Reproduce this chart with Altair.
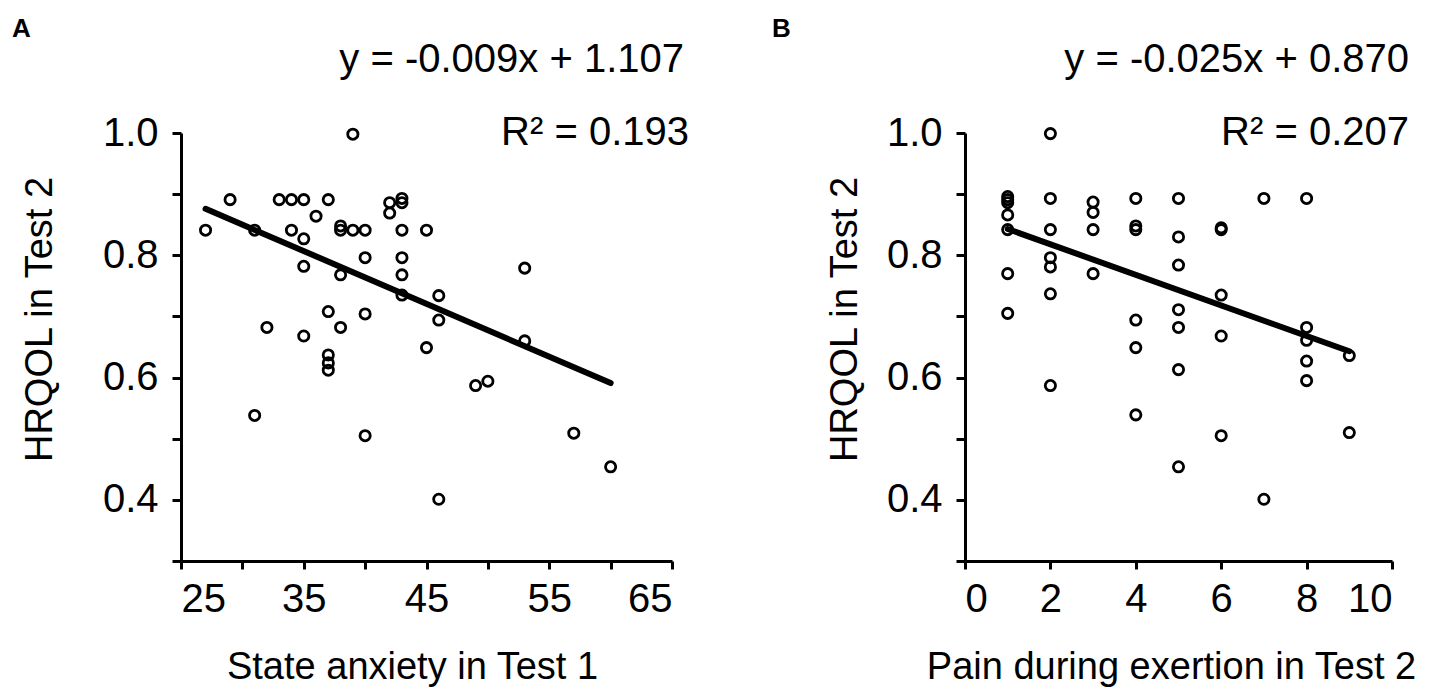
import altair as alt
import pandas as pd

FONT = "Liberation Sans"

# Panel A: state anxiety in Test 1 vs HRQOL in Test 2
anx_x = [27, 29, 33, 34, 35, 37, 36, 31, 34, 35, 38, 38, 39, 40, 39, 42, 42, 43, 43, 43,
         45, 40, 43, 43, 35, 38, 43, 46, 46, 37, 40, 32, 35, 38, 45, 53, 37, 37, 37, 49,
         50, 31, 40, 57, 60, 46, 53]
anx_y = [0.841, 0.891, 0.891, 0.891, 0.891, 0.891, 0.864, 0.841, 0.841, 0.827, 0.848, 0.841,
         0.841, 0.841, 0.998, 0.886, 0.869, 0.893, 0.886, 0.841, 0.841, 0.796, 0.796, 0.768,
         0.782, 0.768, 0.735, 0.734, 0.694, 0.708, 0.704, 0.682, 0.668, 0.682, 0.649, 0.660,
         0.637, 0.624, 0.612, 0.587, 0.594, 0.538, 0.505, 0.509, 0.454, 0.401, 0.779]
anx_fit_x = [27, 60]
anx_fit_y = [0.876, 0.591]

# Panel B: pain during exertion in Test 2 vs HRQOL in Test 2
pain_x = [1, 1, 1, 1, 1, 1, 1,
          2, 2, 2, 2, 2, 2, 2,
          3, 3, 3, 3,
          4, 4, 4, 4, 4, 4,
          5, 5, 5, 5, 5, 5, 5,
          6, 6, 6, 6, 6,
          7, 7,
          8, 8, 8, 8, 8,
          9, 9]
pain_y = [0.896, 0.891, 0.886, 0.866, 0.842, 0.770, 0.705,
          0.999, 0.893, 0.842, 0.796, 0.781, 0.737, 0.587,
          0.887, 0.870, 0.842, 0.770,
          0.893, 0.848, 0.842, 0.694, 0.649, 0.539,
          0.893, 0.830, 0.784, 0.711, 0.682, 0.613, 0.454,
          0.845, 0.842, 0.735, 0.668, 0.505,
          0.893, 0.401,
          0.893, 0.682, 0.661, 0.627, 0.595,
          0.636, 0.510]
pain_fit_x = [1, 9]
pain_fit_y = [0.843, 0.643]

# ticks and labels
y_ticks = [0.3, 0.4, 0.5, 0.6, 0.7, 0.8, 0.9, 1.0]
y_labels = ["0.4", "0.6", "0.8", "1.0"]
anx_ticks = [25, 30, 35, 40, 45, 50, 55, 60, 65]
anx_labels = [25, 35, 45, 55, 65]
pain_ticks = [0, 2, 4, 6, 8, 10]

panel_letters = ["A", "B"]
equations = ["y = -0.009x + 1.107", "y = -0.025x + 0.870"]
r_squared = ["R\u00b2 = 0.193", "R\u00b2 = 0.207"]

H = 428
y_label_expr = ("indexof(%s, format(datum.value, '.1f')) >= 0 ? format(datum.value, '.1f') : ''"
                % str(y_labels))


def y_axis(title_x):
    return alt.Axis(values=y_ticks, labelExpr=y_label_expr, tickSize=9, labelPadding=14,
                    title="HRQOL in Test 2", titleX=title_x, titleY=186, titleAngle=-90,
                    titleBaseline="alphabetic", titleAlign="center")


def text_layer(txt, x, y, size=40, weight="normal", align="right"):
    return alt.Chart(pd.DataFrame({"t": [txt]})).mark_text(
        align=align, baseline="alphabetic", font=FONT, fontSize=size,
        fontWeight=weight, color="black"
    ).encode(text="t:N", x=alt.value(x), y=alt.value(y))


def panel(xs, ys, fx, fy, x_scale, x_axis, y_ax, width, idx, letter_x, eq_right, r2_right):
    pts = pd.DataFrame({"x": xs, "y": ys})
    fit = pd.DataFrame({"x": fx, "y": fy})
    points = alt.Chart(pts).mark_point(
        shape="circle", filled=False, size=105, strokeWidth=2.8, color="black", opacity=1
    ).encode(
        x=alt.X("x:Q", scale=x_scale, axis=x_axis),
        y=alt.Y("y:Q", scale=alt.Scale(domain=[0.3, 1.0], nice=False, zero=False), axis=y_ax),
    )
    line = alt.Chart(fit).mark_line(color="black", strokeWidth=6, strokeCap="round").encode(
        x="x:Q", y="y:Q"
    )
    return alt.layer(
        points, line,
        text_layer(panel_letters[idx], letter_x, -96, size=26, weight="bold", align="left"),
        text_layer(equations[idx], eq_right, -61),
        text_layer(r_squared[idx], r2_right, 12),
    ).properties(width=width, height=H)


chart_a = panel(
    anx_x, anx_y, anx_fit_x, anx_fit_y,
    alt.Scale(domain=[25, 65], nice=False, zero=False),
    alt.Axis(values=anx_ticks, tickSize=8, labelPadding=10,
             labelExpr="indexof(%s, datum.value) >= 0 ? datum.label : ''" % str(anx_labels),
             title="State anxiety in Test 1", titleX=231, titleY=117,
             titleBaseline="alphabetic"),
    y_axis(-130), 491, 0, -169, 503, 508,
)

chart_b = panel(
    pain_x, pain_y, pain_fit_x, pain_fit_y,
    alt.Scale(domain=[0, 10], nice=False, zero=False),
    alt.Axis(values=pain_ticks, tickSize=8, labelPadding=10,
             title="Pain during exertion in Test 2", titleX=206, titleY=117,
             titleBaseline="alphabetic"),
    y_axis(-109), 427, 1, -193, 444, 444,
)

chart = alt.hconcat(chart_a, chart_b, spacing=293, bounds="flush").properties(
    padding={"left": 4, "top": 8, "right": 5, "bottom": 5}
).configure_axis(
    grid=False,
    domainColor="black", domainWidth=3,
    tickColor="black", tickWidth=3,
    labelFont=FONT, labelFontSize=40, labelColor="black",
    titleFont=FONT, titleFontSize=38, titleFontWeight="normal", titleColor="black",
).configure_view(stroke=None)

chart.save("out.html", embed_options={"renderer": "svg", "actions": False})
